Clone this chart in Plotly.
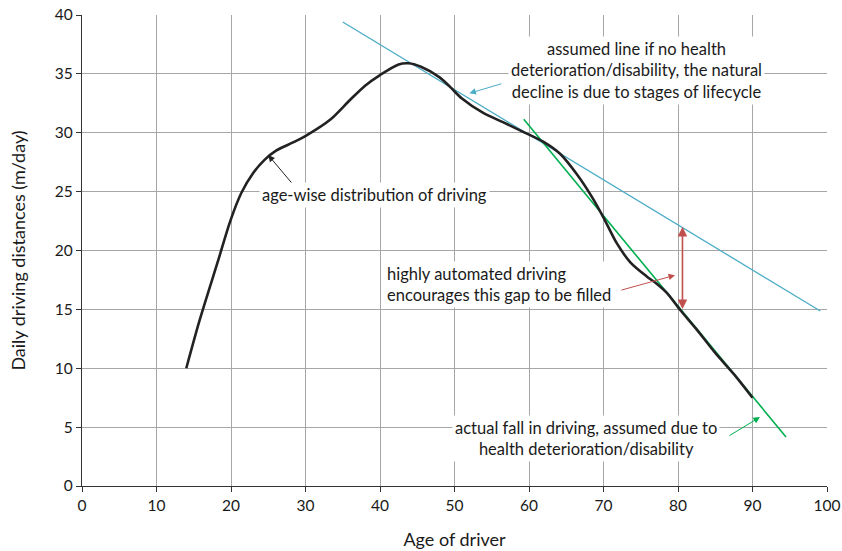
import plotly.graph_objects as go

# Age-wise distribution of driving (black curve)
ages = [14, 15.8, 18.3, 19.9, 21.4, 23, 24.5, 26.1, 28.4, 30.2, 33.3, 36, 38, 40, 42.5, 43.8, 45.5, 48, 49.4, 51,
        53.8, 56.5, 58.8, 61.9, 64.2, 66.4, 68.4, 70, 71.8, 73.6, 75.8, 77.1, 78.5, 80.3, 82.5, 85, 87.5, 90]
distance = [10, 14.1, 19.2, 22.5, 24.9, 26.6, 27.7, 28.5, 29.2, 29.8, 31.1, 32.8, 34.0, 34.9, 35.8, 35.9, 35.6, 34.7, 33.9, 32.9,
            31.7, 30.9, 30.2, 29.25, 28.2, 26.5, 24.6, 22.8, 20.6, 19.0, 17.8, 17.2, 16.4, 14.95, 13.3, 11.3, 9.5, 7.5]

# Assumed natural decline line (blue)
natural_x = [35.0, 99.1]
natural_y = [39.4, 14.86]

# Actual fall line (green)
actual_x = [59.3, 94.5]
actual_y = [31.15, 4.16]

# Gap arrow (red)
gap_x = 80.6
gap_top = 22.0
gap_bottom = 14.9

FONT = "Lato, 'Open Sans', sans-serif"
BLUE = "#4bacc6"
GREEN = "#00b050"
RED = "#c0504d"
TXT = "#1a1a1a"

fig = go.Figure()
fig.add_trace(go.Scatter(x=natural_x, y=natural_y, mode="lines",
                         line=dict(color=BLUE, width=1.3), hoverinfo="skip"))
fig.add_trace(go.Scatter(x=actual_x, y=actual_y, mode="lines",
                         line=dict(color=GREEN, width=1.6), hoverinfo="skip"))
fig.add_trace(go.Scatter(x=ages, y=distance, mode="lines",
                         line=dict(color="#222222", width=2.6, shape="spline", smoothing=0.8)))

# red double-headed arrow
fig.add_annotation(x=gap_x, y=gap_top, ax=gap_x, ay=gap_bottom, xref="x", yref="y", axref="x", ayref="y",
                   text="", showarrow=True, arrowhead=2, arrowside="end+start", arrowsize=1.2,
                   arrowwidth=1.6, arrowcolor=RED)

def pointer(x0, y0, x1, y1, color):
    fig.add_annotation(x=x1, y=y1, ax=x0, ay=y0, xref="x", yref="y", axref="x", ayref="y",
                       text="", showarrow=True, arrowhead=2, arrowsize=1.3, arrowwidth=1,
                       arrowcolor=color)

pointer(28.6, 25.4, 25.0, 28.1, "#222222")
pointer(56.5, 34.2, 52.0, 33.35, BLUE)
pointer(72.2, 16.6, 79.6, 17.9, RED)
pointer(86.7, 4.2, 91.0, 5.85, GREEN)

def label(x, y, text, align="center", xanchor="center"):
    fig.add_annotation(x=x, y=y, xref="x", yref="y", text=text, showarrow=False,
                       align=align, xanchor=xanchor, bgcolor="white", borderpad=2,
                       font=dict(family=FONT, size=16.5, color=TXT))

label(39.3, 24.7, "age-wise distribution of driving")
label(74.4, 35.3, "assumed line if no health<br>deterioration/disability, the natural<br>decline is due to stages of lifecycle")
label(40.6, 17.15, "highly automated driving<br>encourages this gap to be filled", align="left", xanchor="left")
label(67.7, 4.0, "actual fall in driving, assumed due to<br>health deterioration/disability")

axis_common = dict(showgrid=True, gridcolor="#a6a6a6", gridwidth=1, showline=True, linecolor="#333333",
                   linewidth=1.2, ticks="outside", ticklen=5, tickcolor="#333333", zeroline=False,
                   automargin=False, tickfont=dict(family=FONT, size=15.5, color=TXT))

fig.update_layout(
    width=842, height=551,
    margin=dict(l=82, r=15, t=15, b=65),
    paper_bgcolor="white", plot_bgcolor="white",
    showlegend=False,
    xaxis=dict(range=[0, 100], dtick=10, title=dict(text="Age of driver", standoff=20,
               font=dict(family=FONT, size=18, color=TXT)), **axis_common),
    yaxis=dict(range=[0, 40], dtick=5, title=dict(text="Daily driving distances (m/day)", standoff=24,
               font=dict(family=FONT, size=18, color=TXT)), **axis_common),
)

fig.write_html("out.html", config={"displayModeBar": False},
               post_script="document.body.style.margin='0';document.body.style.overflow='hidden';")
